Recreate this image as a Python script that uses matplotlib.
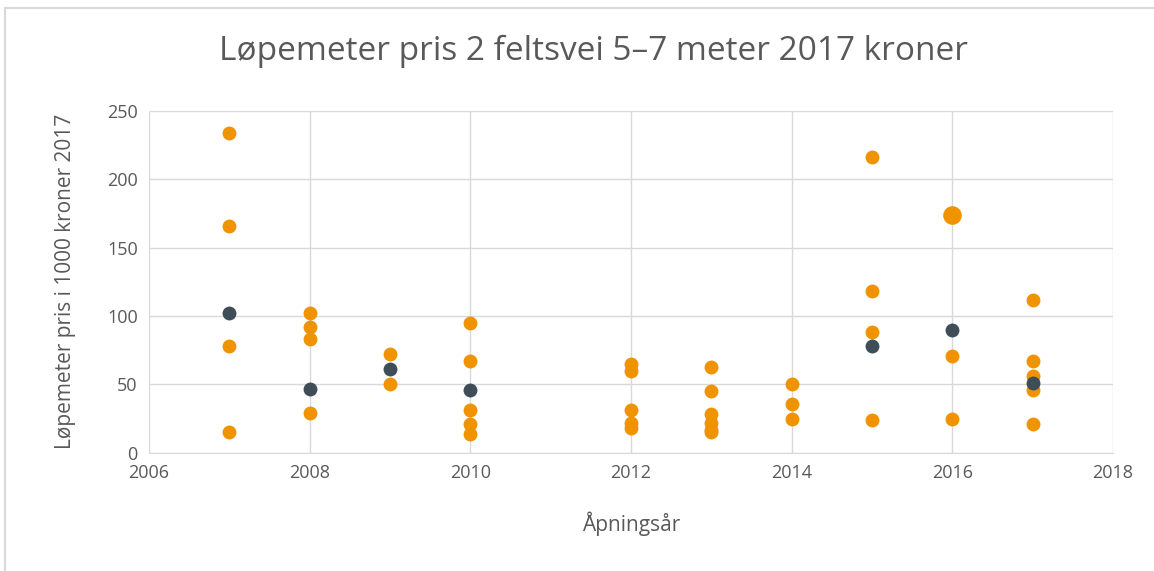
import matplotlib.pyplot as plt
from matplotlib.patches import Rectangle

# orange points (individual projects)
orange_year = [2007, 2007, 2007, 2007,
               2008, 2008, 2008, 2008,
               2009, 2009,
               2010, 2010, 2010, 2010, 2010,
               2012, 2012, 2012, 2012, 2012,
               2013, 2013, 2013, 2013, 2013, 2013,
               2014, 2014, 2014,
               2015, 2015, 2015, 2015,
               2016, 2016,
               2017, 2017, 2017, 2017, 2017]
orange_val = [234, 166, 78, 15,
              102, 92, 83, 29,
              72, 50,
              95, 67, 31, 21, 14,
              65, 60, 31, 22, 18,
              63, 45, 28, 22, 17, 15,
              50, 36, 25,
              216, 118, 88, 24,
              71, 25,
              112, 67, 56, 46, 21]

# the one enlarged point
big_year = [2016]
big_val = [174]

# dark points (averages)
dark_year = [2007, 2008, 2009, 2010, 2015, 2016, 2017]
dark_val = [102, 47, 61, 46, 78, 90, 51]

grey = '#595959'
plt.rcParams['font.family'] = ['Open Sans', 'DejaVu Sans']

fig = plt.figure(figsize=(11.54, 5.71), dpi=100)
ax = fig.add_axes([0.129, 0.207, 0.8355, 0.599])

ax.scatter(orange_year, orange_val, s=100, color='#EF9300', zorder=3, linewidths=0)
ax.scatter(big_year, big_val, s=180, color='#EF9300', zorder=3, linewidths=0)
ax.scatter(dark_year, dark_val, s=100, color='#3E4D58', zorder=4, linewidths=0)

ax.set_xlim(2006, 2018)
ax.set_ylim(0, 250)
ax.set_xticks(range(2006, 2019, 2))
ax.set_yticks(range(0, 251, 50))
ax.grid(True, color='#d9d9d9', linewidth=1)
ax.set_axisbelow(True)
for s in ['top', 'right', 'left']:
    ax.spines[s].set_visible(False)
ax.spines['bottom'].set_color('#d9d9d9')
ax.tick_params(length=0, labelsize=13, colors=grey, pad=8)

ax.set_xlabel('Åpningsår', fontsize=15, color=grey, labelpad=21)
ax.set_ylabel('Løpemeter pris i 1000 kroner 2017', fontsize=15, color=grey, labelpad=22)
fig.text(0.514, 0.91, 'Løpemeter pris 2 feltsvei 5–7 meter 2017 kroner',
         ha='center', va='center', fontsize=24, color=grey)

fig.patches.append(Rectangle((0.004, -0.01), 1.2, 0.996, transform=fig.transFigure,
                             fill=False, edgecolor='#d9d9d9', linewidth=1.5))

fig.savefig('out.png', dpi=100)
